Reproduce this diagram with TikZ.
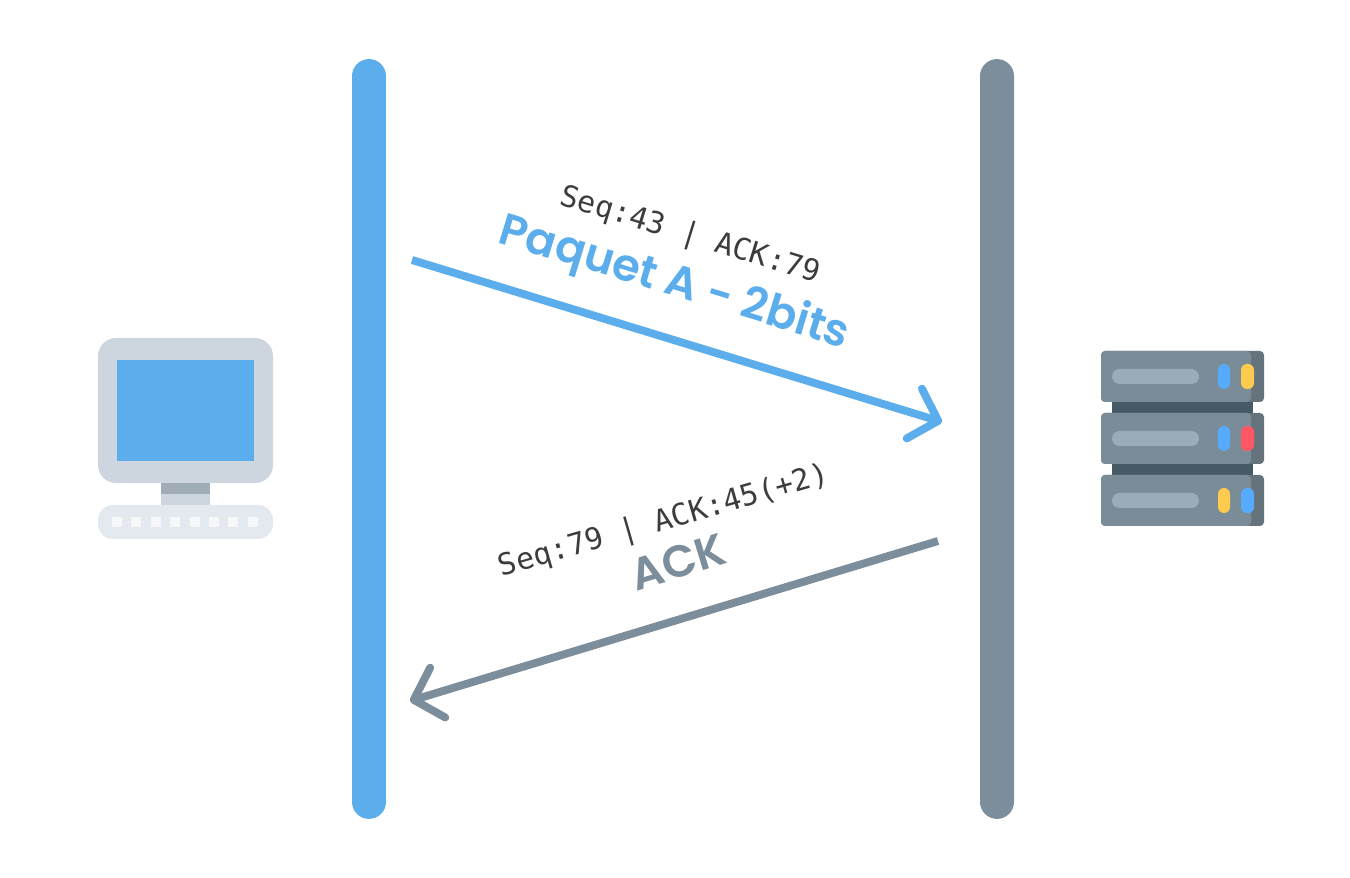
\documentclass[tikz,border=0pt]{standalone}
\usepackage{fontspec}
\usetikzlibrary{arrows.meta}
\newfontfamily\titlefont{Poppins SemiBold}
\newfontfamily\seqfont{DejaVu Sans Mono}
\definecolor{laneblue}{HTML}{5CADEC}
\definecolor{lanegray}{HTML}{7C8E9B}
\definecolor{seqtext}{HTML}{3C3C3C}
\definecolor{framegray}{HTML}{CDD5DE}
\definecolor{standgray}{HTML}{A0ADB7}
\definecolor{keyboardgray}{HTML}{E4E9EF}
\definecolor{keywhite}{HTML}{F5F7F9}
\definecolor{unitgray}{HTML}{7A8C98}
\definecolor{unitshade}{HTML}{65737D}
\definecolor{rackdark}{HTML}{465A65}
\definecolor{pillgray}{HTML}{9BABB9}
\definecolor{ledblue}{HTML}{57ABFF}
\definecolor{ledyellow}{HTML}{FFCB4F}
\definecolor{ledred}{HTML}{FF5764}

\begin{document}
\begin{tikzpicture}[
  x=0.02cm, y=-0.02cm,
  lane/.style={rounded corners=0.34cm, minimum width=0.68cm, minimum height=15.2cm, inner sep=0pt},
  msgarrow/.style={line width=4.5pt, -{Straight Barb[length=0.5cm, width=1.04cm, round]}},
  seqlabel/.style={font=\seqfont\fontsize{17}{20}\selectfont, text=seqtext, inner sep=0pt},
  msglabel/.style={font=\titlefont\fontsize{25.5}{30}\selectfont, inner sep=0pt},
  led/.style={rounded corners=0.12cm},
]
\useasboundingbox (0,0) rectangle (1350,878);

\node[lane, fill=laneblue] (client) at (369,439) {};
\node[lane, fill=lanegray] (server) at (997,439) {};

\coordinate (A1) at (412,260);
\coordinate (A2) at (942,422);
\coordinate (B1) at (938,541);
\coordinate (B2) at (410,701);
\draw[msgarrow, laneblue] (A1) -- (A2);
\draw[msgarrow, lanegray] (B1) -- (B2);

\node[seqlabel, rotate=-17] (seqA) at (690,236) {Seq:43 | ACK:79};
\node[msglabel, rotate=-17, text=laneblue] (paquet) at (674,284) {Paquet A - 2bits};
\node[seqlabel, rotate=16] (seqB) at (664,522) {Seq:79 | ACK:45(+2)};
\node[msglabel, rotate=17, text=lanegray] (ack) at (678,562) {ACK};

% computer
\fill[framegray, rounded corners=0.36cm] (98,338) rectangle (273,483);
\fill[laneblue] (117,360) rectangle (254,461);
\fill[standgray] (161,483) rectangle (210,494);
\fill[framegray] (161,494) rectangle (210,505);
\fill[keyboardgray, rounded corners=0.3cm] (98,505) rectangle (273,539);
\foreach \k in {0,...,7}
  \fill[keywhite] (112+19.4*\k,517) rectangle (122+19.4*\k,527);

% rack
\fill[rackdark] (1112,402) rectangle (1253,413);
\fill[rackdark] (1112,464) rectangle (1253,475);
\foreach \y/\ledA/\ledB in {351/ledblue/ledyellow, 413/ledblue/ledred, 475/ledyellow/ledblue} {
  \fill[unitshade, rounded corners=0.08cm] (1101,\y) rectangle (1264,\y+51);
  \fill[unitgray, rounded corners=0.08cm] (1101,\y) rectangle (1251,\y+51);
  \fill[pillgray, rounded corners=0.15cm] (1112,\y+18) rectangle (1199,\y+33);
  \fill[\ledA, led] (1218,\y+13) rectangle (1230,\y+38);
  \fill[\ledB, led] (1241,\y+13) rectangle (1254,\y+38);
}
\end{tikzpicture}
\end{document}
